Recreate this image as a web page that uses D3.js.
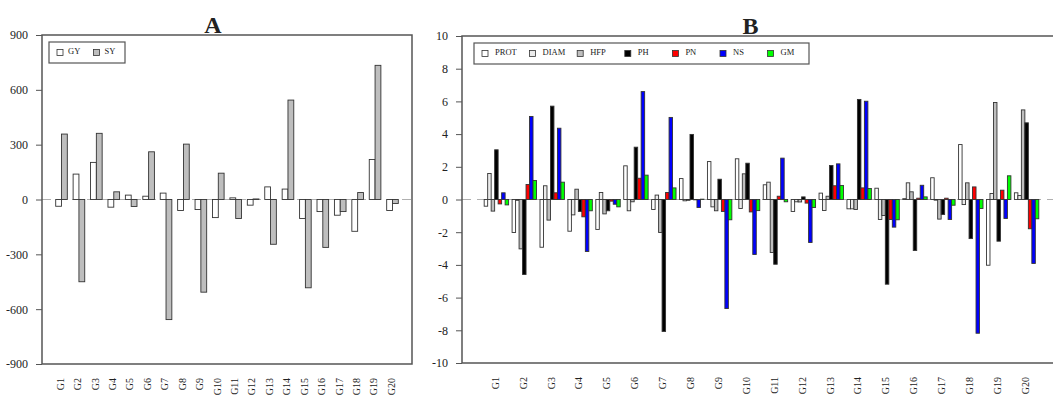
<!DOCTYPE html>
<html>
<head>
<meta charset="utf-8">
<script src="https://cdn.jsdelivr.net/npm/d3@7"></script>
<style>
  html, body { margin: 0; padding: 0; background: #fff; }
  svg text { font-family: "Liberation Serif", "Times New Roman", serif; fill: #222; }
</style>
</head>
<body>
<svg id="chart" width="1053" height="396"></svg>
<script>
// ---- Panel A data ----
const genotypes = ["G1","G2","G3","G4","G5","G6","G7","G8","G9","G10",
                   "G11","G12","G13","G14","G15","G16","G17","G18","G19","G20"];
const seriesA = ["GY", "SY"];
const valuesGY = [-37, 139, 203, -42, 24, 18, 35, -60, -55, -99,
                  9, -31, 69, 57, -104, -66, -86, -174, 219, -60];
const valuesSY = [358, -450, 362, 42, -38, 261, -657, 303, -507, 144,
                  -104, 3, -245, 544, -483, -262, -66, 38, 734, -22];
const ticksA = [-900, -600, -300, 0, 300, 600, 900];

// ---- Panel B data ----
const seriesB = ["PROT", "DIAM", "HFP", "PH", "PN", "NS", "GM"];
const valuesPROT = [-0.41, -2.02, -2.92, -1.94, -1.83, 2.06, -0.61, 1.28, 2.32, 2.49,
                    0.90, -0.73, 0.39, -0.57, 0.69, 0.05, 1.33, 3.36, -4.02, 0.41];
const valuesDIAM = [1.59, -0.05, 0.84, -0.94, 0.43, -0.69, 0.27, -0.08, -0.45, -0.55,
                    1.06, -0.14, -0.67, -0.57, -1.22, 1.02, -0.04, -0.31, 0.37, 0.24];
const valuesHFP  = [-0.71, -3.02, -1.26, 0.63, -0.88, -0.14, -2.02, -0.05, -0.69, 1.57,
                    -3.24, -0.15, 0.20, -0.61, -0.98, 0.47, -1.20, 1.02, 5.93, 5.48];
const valuesPH   = [3.04, -4.59, 5.71, -0.73, -0.69, 3.20, -8.07, 3.98, 1.24, 2.22,
                    -3.96, 0.16, 2.08, 6.12, -5.18, -3.12, -0.92, -2.39, -2.55, 4.69];
const valuesPN   = [-0.27, 0.92, 0.41, -1.06, -0.10, 1.30, 0.43, -0.02, -0.73, -0.76,
                    0.20, -0.22, 0.84, 0.71, -1.22, 0.08, 0.08, 0.77, 0.57, -1.79];
const valuesNS   = [0.41, 5.08, 4.36, -3.18, -0.29, 6.60, 5.02, -0.49, -6.67, -3.36,
                    2.53, -2.63, 2.18, 6.01, -1.69, 0.87, -1.22, -8.18, -1.16, -3.91];
const valuesGM   = [-0.33, 1.16, 1.06, -0.69, -0.45, 1.49, 0.71, 0.02, -1.24, -0.68,
                    -0.14, -0.49, 0.86, 0.67, -1.24, 0.16, -0.35, -0.55, 1.45, -1.18];
const ticksB = [-10, -8, -6, -4, -2, 0, 2, 4, 6, 8, 10];

const fillA = ["#ffffff", "#bebebe"];
const fillB = ["#ffffff", "#ebebeb", "#bebebe", "#000000", "#ff0000", "#0000ff", "#00ff00"];

const svg = d3.select("#chart");

function drawPanel(cfg) {
  const { left, right, top, bottom, yDomain, ticks, series, values, fills,
          title, titleX, legendBox, legendStep, legendTextDx } = cfg;
  const nSer = series.length;
  const groupW = nSer + 1;
  const xMin = 1, xMax = genotypes.length * groupW;
  const pad = 0.04 * (xMax - xMin);
  const x = d3.scaleLinear().domain([xMin - pad, xMax + pad]).range([left, right]);
  const y = d3.scaleLinear().domain(yDomain).range([bottom, top]);
  const g = svg.append("g");

  // zero reference line
  g.append("line")
    .attr("x1", left).attr("x2", right)
    .attr("y1", y(0)).attr("y2", y(0))
    .attr("stroke", "#b0b0b0").attr("stroke-width", 1)
    .attr("stroke-dasharray", "9,6");

  // bars
  const rows = [];
  genotypes.forEach((gname, i) => {
    series.forEach((s, j) => {
      rows.push({ i, j, v: values[j][i] });
    });
  });
  g.selectAll("rect.bar").data(rows).join("rect")
    .attr("class", "bar")
    .attr("x", d => x(1 + d.i * groupW + d.j))
    .attr("width", d => x(2 + d.i * groupW + d.j) - x(1 + d.i * groupW + d.j))
    .attr("y", d => Math.min(y(0), y(d.v)))
    .attr("height", d => Math.abs(y(d.v) - y(0)))
    .attr("fill", d => fills[d.j])
    .attr("stroke", "#333").attr("stroke-width", 0.9);

  // y axis
  const ax = g.append("g")
    .attr("transform", `translate(${left},0)`)
    .call(d3.axisLeft(y).tickValues(ticks).tickSize(6).tickPadding(8).tickFormat(d3.format("d")));
  ax.select(".domain").remove();
  ax.selectAll(".tick line").attr("stroke", "#555");
  ax.selectAll(".tick text")
    .attr("font-family", "Liberation Serif, serif")
    .attr("font-size", 12).attr("fill", "#222")
    .text(d => d < 0 ? "-" + Math.abs(d) : d);

  // group labels, rotated
  g.selectAll("text.glab").data(genotypes).join("text")
    .attr("class", "glab")
    .attr("font-size", 10)
    .attr("text-anchor", "end")
    .attr("dominant-baseline", "middle")
    .attr("transform", (d, i) => `translate(${x(1 + i * groupW + nSer / 2)},${bottom + 14}) rotate(-90)`)
    .text(d => d);

  // frame
  g.append("rect")
    .attr("x", left).attr("y", top)
    .attr("width", right - left).attr("height", bottom - top)
    .attr("fill", "none").attr("stroke", "#555").attr("stroke-width", 1.5);

  // title
  g.append("text")
    .attr("x", titleX).attr("y", top - 2)
    .attr("text-anchor", "middle")
    .attr("font-size", 24).attr("font-weight", "bold").attr("fill", "#111")
    .text(title);

  // legend
  const lg = g.append("g");
  lg.append("rect")
    .attr("x", legendBox[0]).attr("y", legendBox[1])
    .attr("width", legendBox[2]).attr("height", legendBox[3])
    .attr("fill", "#fff").attr("stroke", "#555").attr("stroke-width", 1.2);
  const cy = legendBox[1] + legendBox[3] / 2;
  series.forEach((s, k) => {
    const sx = legendBox[0] + 8 + k * legendStep;
    lg.append("rect")
      .attr("x", sx).attr("y", cy - 3)
      .attr("width", 6).attr("height", 6)
      .attr("fill", fills[k]).attr("stroke", "#333").attr("stroke-width", 0.8);
    lg.append("text")
      .attr("x", sx + legendTextDx).attr("y", cy)
      .attr("dominant-baseline", "middle")
      .attr("font-size", 8.5)
      .text(s);
  });
}

drawPanel({
  left: 42, right: 412, top: 35, bottom: 364,
  yDomain: [-900, 900], ticks: ticksA,
  series: seriesA, values: [valuesGY, valuesSY], fills: fillA,
  title: "A", titleX: 213,
  legendBox: [49, 42, 76, 21], legendStep: 36.5, legendTextDx: 11
});

drawPanel({
  left: 462, right: 1061, top: 36, bottom: 363,
  yDomain: [-10, 10], ticks: ticksB,
  series: seriesB,
  values: [valuesPROT, valuesDIAM, valuesHFP, valuesPH, valuesPN, valuesNS, valuesGM],
  fills: fillB,
  title: "B", titleX: 750.5,
  legendBox: [474, 43, 335, 21], legendStep: 47.6, legendTextDx: 13
});
</script>
</body>
</html>
